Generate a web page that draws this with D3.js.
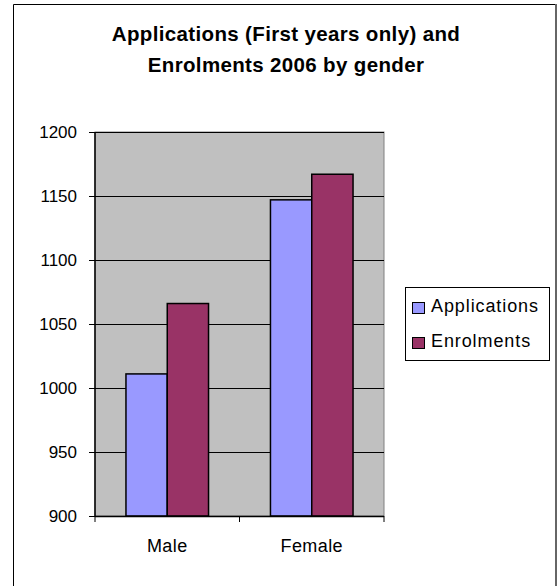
<!DOCTYPE html>
<html>
<head>
<meta charset="utf-8">
<script src="https://cdn.jsdelivr.net/npm/d3@7"></script>
<style>
  html, body { margin: 0; padding: 0; background: #fff; }
  svg { display: block; font-family: Arial, "Liberation Sans", sans-serif; }
</style>
</head>
<body>
<svg id="chart" width="557" height="586"></svg>
<script>
// Applications vs enrolments, first years only, 2006
const categories = ["Male", "Female"];
const seriesNames = ["Applications", "Enrolments"];
const applications = [1011, 1147];
const enrolments = [1066, 1167];
const yTicks = [900, 950, 1000, 1050, 1100, 1150, 1200];
const seriesColors = ["#9999FF", "#993366"];

const svg = d3.select("#chart");

// outer chart frame (left, top, right edges)
svg.append("path")
  .attr("d", "M13.5,586 V4.5 H555.5 V586")
  .attr("fill", "none").attr("stroke", "#000").attr("stroke-width", 1);
svg.append("line")
  .attr("x1", 556).attr("x2", 556).attr("y1", 4).attr("y2", 586)
  .attr("stroke", "#666").attr("stroke-width", 2);

// title
const title = svg.append("text")
  .attr("text-anchor", "middle")
  .attr("font-weight", "bold").attr("font-size", 20.5)
  .attr("letter-spacing", 0.35).attr("fill", "#000");
title.append("tspan").attr("x", 286).attr("y", 41).text("Applications (First years only) and");
title.append("tspan").attr("x", 286).attr("y", 72).text("Enrolments 2006 by gender");

// plot area
const plot = { left: 95, right: 384, top: 132, bottom: 516 };

const x0 = d3.scaleBand().domain(categories).range([plot.left, plot.right]).paddingInner(0).paddingOuter(0);
const groupPad = x0.bandwidth() * 1.5 / 3.5 / 2;
const x1 = d3.scaleBand().domain(seriesNames).range([groupPad, x0.bandwidth() - groupPad]).padding(0);
const y = d3.scaleLinear().domain([900, 1200]).range([plot.bottom, plot.top]);

svg.append("rect")
  .attr("x", plot.left).attr("y", plot.top)
  .attr("width", plot.right - plot.left).attr("height", plot.bottom - plot.top)
  .attr("fill", "#C0C0C0").attr("stroke", "#808080").attr("stroke-width", 1);

// gridlines
svg.append("g").selectAll("line")
  .data(yTicks.filter(t => t > 900))
  .join("line")
  .attr("x1", plot.left).attr("x2", plot.right)
  .attr("y1", d => Math.round(y(d)) + 0.5).attr("y2", d => Math.round(y(d)) + 0.5)
  .attr("stroke", "#000").attr("stroke-width", 1);

// bars
const rows = categories.map((c, i) => ({ cat: c, values: [applications[i], enrolments[i]] }));
svg.append("g").selectAll("g")
  .data(rows)
  .join("g")
  .attr("transform", d => `translate(${x0(d.cat)},0)`)
  .selectAll("rect")
  .data(d => d.values.map((v, j) => ({ name: seriesNames[j], value: v, color: seriesColors[j] })))
  .join("rect")
  .attr("x", d => x1(d.name))
  .attr("y", d => y(d.value))
  .attr("width", x1.bandwidth())
  .attr("height", d => y(900) - y(d.value))
  .attr("fill", d => d.color)
  .attr("stroke", "#000").attr("stroke-width", 1.5);

// y axis
const yAxis = svg.append("g")
  .attr("transform", `translate(${plot.left},0)`)
  .call(d3.axisLeft(y).tickValues(yTicks).tickSize(6).tickPadding(12).tickFormat(d3.format("d")));
yAxis.select(".domain").attr("stroke", "#000").attr("stroke-width", 1.5).attr("d", `M0,${plot.top}V${plot.bottom}`);
yAxis.selectAll(".tick line").attr("stroke", "#000");
yAxis.selectAll(".tick text").attr("font-size", 17).attr("fill", "#000")
  .attr("font-family", "Arial, 'Liberation Sans', sans-serif");

// x axis
const xAxis = svg.append("g")
  .attr("transform", `translate(0,${plot.bottom})`);
xAxis.append("line")
  .attr("x1", plot.left).attr("x2", plot.right)
  .attr("y1", 0.5).attr("y2", 0.5)
  .attr("stroke", "#000").attr("stroke-width", 1.5);
xAxis.selectAll("line.tick")
  .data([plot.left, (plot.left + plot.right) / 2, plot.right])
  .join("line").attr("class", "tick")
  .attr("x1", d => d).attr("x2", d => d)
  .attr("y1", 0).attr("y2", 6)
  .attr("stroke", "#000");
xAxis.selectAll("text")
  .data(categories)
  .join("text")
  .attr("x", d => x0(d) + x0.bandwidth() / 2)
  .attr("y", 36)
  .attr("text-anchor", "middle")
  .attr("font-size", 18).attr("letter-spacing", 0.4).attr("fill", "#000")
  .text(d => d);

// legend
const legend = svg.append("g");
legend.append("rect")
  .attr("x", 405.5).attr("y", 287.5).attr("width", 144).attr("height", 73)
  .attr("fill", "#fff").attr("stroke", "#000").attr("stroke-width", 1);
const items = legend.selectAll("g")
  .data(seriesNames)
  .join("g")
  .attr("transform", (d, i) => `translate(0,${i * 35})`);
items.append("rect")
  .attr("x", 412.5).attr("y", 302.5).attr("width", 12).attr("height", 11)
  .attr("fill", (d, i) => seriesColors[i])
  .attr("stroke", "#000").attr("stroke-width", 1);
items.append("text")
  .attr("x", 431).attr("y", 312)
  .attr("font-size", 18).attr("letter-spacing", 0.9).attr("fill", "#000")
  .text(d => d);
</script>
</body>
</html>
